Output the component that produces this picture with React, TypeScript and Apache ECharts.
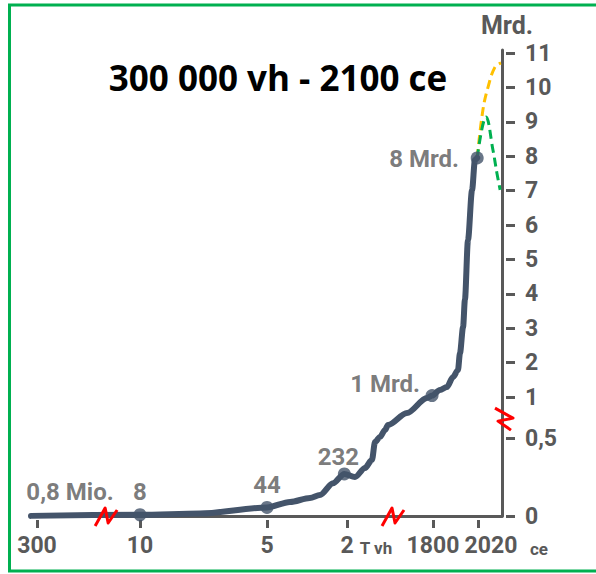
import React, { useEffect, useRef } from "react";
import * as echarts from "echarts";

// piecewise (broken) scales: real value -> axis units
const xScaleYears = [-300000, -8000, -3000, 0, 1800, 2020, 2100];
const xScaleUnits = [0, 103, 230, 310, 396, 441, 464];
const yScaleValues = [0, 0.5, 1, 11];
const yScaleUnits = [0, 78, 119, 463];

const xTickYears = [-300000, -8000, -3000, 0, 1800, 2020];
const xTickLabels = ["300", "10", "5", "2", "1800", "2020"];
const yTickValues = [0, 0.5, 1, 2, 3, 4, 5, 6, 7, 8, 9, 10, 11];
const yTickLabels = ["0", "0,5", "1", "2", "3", "4", "5", "6", "7", "8", "9", "10", "11"];

// world population, billions (Mrd.)
const historyYears = [-317000, -8000, -5640, -3000, -2138, -1388, -1013, -525, -100, 167, 377, 523, 586, 690, 795, 858, 1256, 1674, 1780, 1834, 1868, 1898, 1922, 1932, 1947, 1956, 1971, 1991, 2005, 2016];
const historyPop = [0.0008, 0.008, 0.016, 0.055, 0.09, 0.115, 0.135, 0.21, 0.27, 0.25, 0.308, 0.36, 0.474, 0.512, 0.598, 0.659, 0.805, 0.988, 1.04, 1.2, 1.29, 1.58, 1.78, 2.28, 3.03, 3.82, 5.56, 7.02, 7.89, 7.95];
const highYears = [2016, 2037, 2055, 2079, 2100];
const highPop = [7.95, 9.34, 10.01, 10.59, 10.71];
const lowYears = [2016, 2048, 2072, 2086, 2097];
const lowPop = [7.95, 9.14, 8.18, 7.5, 7.02];

const markerYears = [-8000, -3000, -100, 1780, 2016];
const markerPop = [0.008, 0.055, 0.27, 1.04, 7.95];
const markerLabels = ["8", "44", "232", "1 Mrd.", "8 Mrd."];
const startLabel = "0,8 Mio.";

const titleText = "300 000 vh - 2100 ce";

function piecewise(v: number, xs: number[], ys: number[]) {
  let i = 0;
  if (v <= xs[0]) i = 0;
  else if (v >= xs[xs.length - 1]) i = xs.length - 2;
  else {
    while (v > xs[i + 1]) i++;
  }
  const t = (v - xs[i]) / (xs[i + 1] - xs[i]);
  return ys[i] + t * (ys[i + 1] - ys[i]);
}
const xd = (year: number) => piecewise(year, xScaleYears, xScaleUnits);
const yd = (pop: number) => piecewise(pop, yScaleValues, yScaleUnits);

const GRAY = "#595959";
const DARK = "#44546A";
const FONT = "Roboto, 'Noto Sans', sans-serif";

export default function App() {
  const ref = useRef<HTMLDivElement>(null);
  useEffect(() => {
    const chart = echarts.init(ref.current!, undefined, { renderer: "svg" });
    const xTickPos = xTickYears.map(xd);
    const yTickPos = yTickValues.map(yd);
    const lastX = xTickPos.length - 1;
    const xLabelFor = (v: number) => {
      const i = xTickPos.findIndex((p) => Math.abs(p - v) < 0.01);
      if (i < 0) return "";
      // the last label sits right of its tick, as in the original
      return i === lastX ? `{shift|${xTickLabels[i]}}` : xTickLabels[i];
    };
    const yLabelFor = (v: number) => {
      const i = yTickPos.findIndex((p) => Math.abs(p - v) < 0.01);
      return i >= 0 ? yTickLabels[i] : "";
    };
    // split x labels over two axes so neighbouring labels are not culled
    const xLabelsA = xTickPos.filter((_, i) => i % 2 === 0);
    const xLabelsB = xTickPos.filter((_, i) => i % 2 === 1);
    const labelOffsets: number[][] = [[0, -23], [0, -22], [-6, -17], [-47, -12], [-53, 1]];

    const markerData = markerYears.map((y, i) => ({
      value: [xd(y), yd(markerPop[i])],
      label: {
        show: true,
        position: "inside",
        offset: labelOffsets[i],
        formatter: markerLabels[i],
      },
    }));
    const startData = {
      value: [xd(historyYears[0]), yd(historyPop[0])],
      symbolSize: 0,
      label: { show: true, position: "inside", offset: [39, -24], formatter: startLabel },
    };

    const axisCommonX = { type: "value", min: -6, max: 465, position: "bottom", splitLine: { show: false } };
    const axisCommonY = { type: "value", min: 0, max: 466, position: "right", splitLine: { show: false } };
    const gridBox = { left: 31, right: 94, top: 50, bottom: 58 };
    const xLabelStyle = {
      show: true,
      formatter: (v: number) => xLabelFor(v),
      hideOverlap: false,
      margin: 14,
      color: GRAY,
      fontFamily: FONT,
      fontWeight: "bold",
      fontSize: 23,
      rich: {
        shift: {
          padding: [0, 0, 0, 26],
          color: GRAY,
          fontFamily: FONT,
          fontWeight: "bold",
          fontSize: 23,
        },
      },
    };

    chart.setOption({
      animation: false,
      grid: [gridBox, gridBox, gridBox],
      xAxis: [
        {
          ...axisCommonX,
          gridIndex: 0,
          axisLine: { show: true, onZero: false, lineStyle: { color: GRAY, width: 3 } },
          axisTick: { show: false },
          axisLabel: { show: false },
        },
        {
          ...axisCommonX,
          gridIndex: 1,
          offset: 4,
          axisLine: { show: false, onZero: false },
          axisTick: { show: true, customValues: xTickPos, length: 8, lineStyle: { color: GRAY, width: 3 } },
          axisLabel: { ...xLabelStyle, customValues: xLabelsA },
        },
        {
          ...axisCommonX,
          gridIndex: 2,
          offset: 4,
          axisLine: { show: false, onZero: false },
          axisTick: { show: false },
          axisLabel: { ...xLabelStyle, customValues: xLabelsB },
        },
      ],
      yAxis: [
        {
          ...axisCommonY,
          gridIndex: 0,
          axisLine: { show: true, onZero: false, lineStyle: { color: GRAY, width: 3 } },
          axisTick: { show: false },
          axisLabel: { show: false },
        },
        {
          ...axisCommonY,
          gridIndex: 1,
          offset: 4,
          axisLine: { show: false, onZero: false },
          axisTick: { show: true, customValues: yTickPos, length: 9, lineStyle: { color: GRAY, width: 3 } },
          axisLabel: {
            show: true,
            customValues: yTickPos,
            formatter: (v: number) => yLabelFor(v),
            hideOverlap: false,
            margin: 19,
            color: GRAY,
            fontFamily: FONT,
            fontWeight: "bold",
            fontSize: 23,
          },
        },
        {
          ...axisCommonY,
          gridIndex: 2,
          axisLine: { show: false, onZero: false },
          axisTick: { show: false },
          axisLabel: { show: false },
        },
      ],
      series: [
        {
          type: "line",
          xAxisIndex: 0,
          yAxisIndex: 0,
          data: highYears.map((y, i) => [xd(y), yd(highPop[i])]),
          showSymbol: false,
          smooth: 0.4,
          lineStyle: { color: "#FFC000", width: 3, type: [9, 5] },
          z: 2,
        },
        {
          type: "line",
          xAxisIndex: 0,
          yAxisIndex: 0,
          data: lowYears.map((y, i) => [xd(y), yd(lowPop[i])]),
          showSymbol: false,
          smooth: 0.4,
          lineStyle: { color: "#00B050", width: 3, type: [9, 5] },
          z: 3,
        },
        {
          type: "line",
          xAxisIndex: 0,
          yAxisIndex: 0,
          data: historyYears.map((y, i) => [xd(y), yd(historyPop[i])]),
          showSymbol: false,
          smooth: 0.3,
          smoothMonotone: "x",
          lineStyle: { color: DARK, width: 6, cap: "round", join: "round" },
          z: 4,
        },
        {
          type: "scatter",
          xAxisIndex: 0,
          yAxisIndex: 0,
          symbol: "circle",
          symbolSize: 13,
          itemStyle: { color: DARK },
          label: {
            color: GRAY,
            fontFamily: FONT,
            fontWeight: "bold",
            fontSize: 24,
            align: "center",
            verticalAlign: "middle",
          },
          data: [startData, ...markerData],
          z: 5,
        },
      ],
    });

    const toPx = (year: number, pop: number) =>
      chart.convertToPixel({ xAxisIndex: 0, yAxisIndex: 0 }, [xd(year), yd(pop)]) as number[];
    const bx1 = toPx(-104000, 0);
    const bx2 = toPx(963, 0);
    const by = toPx(2100, 0.73);
    const nShape = [[-11, 9], [-1, -9], [2, 6], [11, -7]];
    const breakH = (c: number[]) => ({
      type: "polyline",
      shape: { points: nShape.map(([dx, dy]) => [c[0] + dx, c[1] + dy]) },
      style: { stroke: "#FF0000", lineWidth: 3, fill: "none", lineJoin: "round" },
      z: 100,
    });
    const breakV = (c: number[]) => ({
      type: "polyline",
      shape: { points: nShape.map(([dx, dy]) => [c[0] - dy, c[1] + dx]) },
      style: { stroke: "#FF0000", lineWidth: 3, fill: "none", lineJoin: "round" },
      z: 100,
    });

    chart.setOption({
      graphic: [
        {
          type: "rect",
          shape: { x: 9.5, y: 5, width: 600, height: 566 },
          style: { fill: "none", stroke: "#00B050", lineWidth: 3 },
          silent: true,
        },
        {
          type: "text",
          x: 278,
          y: 77,
          style: {
            text: titleText,
            fill: "#000",
            font: "bold 35px 'Open Sans', sans-serif",
            textAlign: "center",
            textVerticalAlign: "middle",
          },
        },
        {
          type: "text",
          x: 507,
          y: 25,
          style: {
            text: "Mrd.",
            fill: GRAY,
            font: `bold 25px ${FONT}`,
            textAlign: "center",
            textVerticalAlign: "middle",
          },
        },
        {
          type: "text",
          x: 376,
          y: 548,
          style: {
            text: "T vh",
            fill: GRAY,
            font: `bold 17px ${FONT}`,
            textAlign: "center",
            textVerticalAlign: "middle",
          },
        },
        {
          type: "text",
          x: 539,
          y: 549,
          style: {
            text: "ce",
            fill: GRAY,
            font: `bold 17px ${FONT}`,
            textAlign: "center",
            textVerticalAlign: "middle",
          },
        },
        breakH([bx1[0], bx1[1] + 1]),
        breakH([bx2[0], bx2[1] + 1]),
        breakV([by[0] + 3, by[1]]),
      ],
    });

    return () => chart.dispose();
  }, []);
  return (
    <div
      ref={ref}
      style={{ position: "fixed", left: 0, top: 0, width: 596, height: 574, background: "#fff" }}
    />
  );
}
